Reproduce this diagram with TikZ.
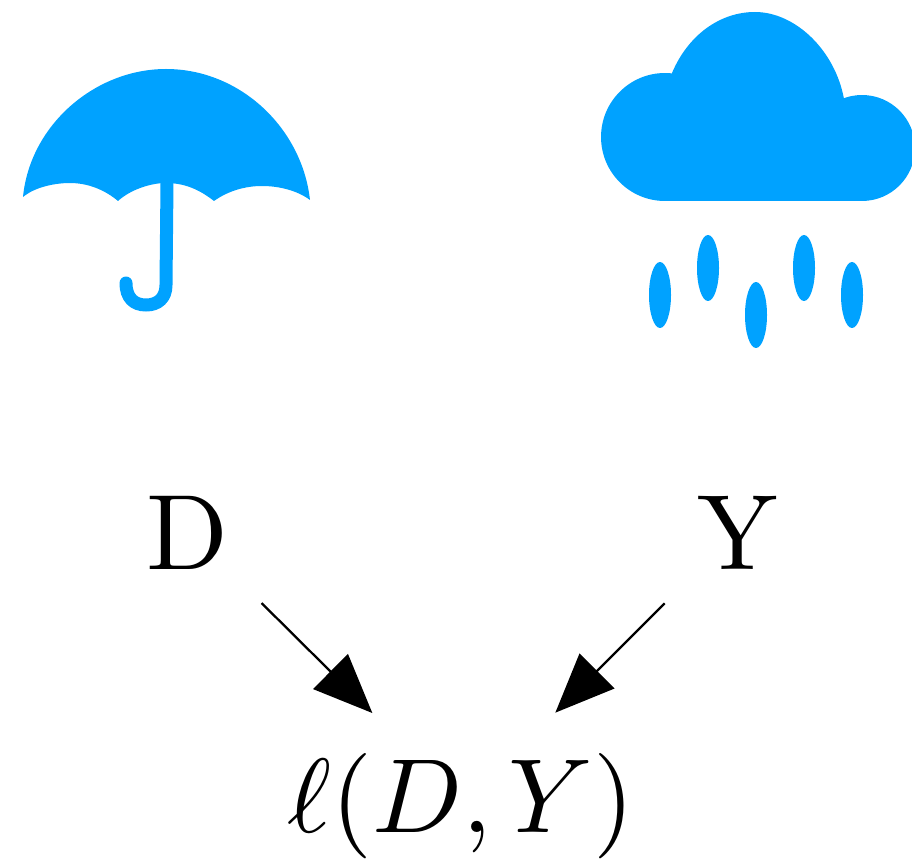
\documentclass[tikz,border=0pt]{standalone}
\usepackage{amsmath}
\usepackage{xcolor}
\usetikzlibrary{arrows.meta, positioning}
\definecolor{iconblue}{RGB}{0,162,255}

\begin{document}
\begin{tikzpicture}[
          x=0.02cm, y=-0.02cm,
          lbl/.style={scale=6.1, transform shape, inner sep=0pt},
          losslbl/.style={scale=6.0, transform shape, inner sep=0pt},
          arr/.style={-{Triangle[length=1.18cm, width=0.98cm]}, line width=1.3pt, shorten <=1.99cm, shorten >=2.64cm},
          drop/.style={fill=iconblue, draw=none}
        ]
        \useasboundingbox (0,0) rectangle (912,861);
        % umbrella
        \fill[iconblue] (23,197) .. controls (30,125) and (95,69) .. (166,69)
            .. controls (240,69) and (302,128) .. (310,200)
            .. controls (298,191) and (280,186) .. (262,186)
            .. controls (245,186) and (228,191) .. (214,201)
            .. controls (200,190) and (185,183) .. (166,183)
            .. controls (150,183) and (130,190) .. (118,201)
            .. controls (105,190) and (88,183) .. (70,183)
            .. controls (55,183) and (35,187) .. (23,197) -- cycle;
        \draw[iconblue, line width=0.26cm, line cap=round] (167,183) -- (166,285)
            .. controls (166,298) and (158,305) .. (146,305)
            .. controls (134,305) and (126,298) .. (126,283);
        % cloud
        \fill[iconblue] (665,137) circle[radius=1.28cm];
        \fill[iconblue] (672,73) .. controls (688,35) and (720,12) .. (755,12)
            .. controls (795,12) and (835,50) .. (844,99) -- (844,140) -- (672,140) -- cycle;
        \fill[iconblue] (862,148) circle[radius=1.06cm];
        \fill[iconblue] (665,137) rectangle (862,201);
        \foreach \px/\py in {660/295, 708/268, 756/315, 804/268, 852/295}
            \fill[drop] (\px,\py) ellipse[x radius=0.22cm, y radius=0.66cm];
        \node[lbl] (dlab) at (187.5,533) {D};
        \node[lbl] (ylab) at (738,533) {Y};
        \node[losslbl] (loss) at (461,806) {$\ell(D,Y)$};
        \draw[arr] ([xshift=0.07cm]dlab.center) -- ([xshift=0.1cm]loss.center);
        \draw[arr] ([xshift=-0.06cm]ylab.center) -- ([xshift=0.02cm]loss.center);
      \end{tikzpicture}
\end{document}
